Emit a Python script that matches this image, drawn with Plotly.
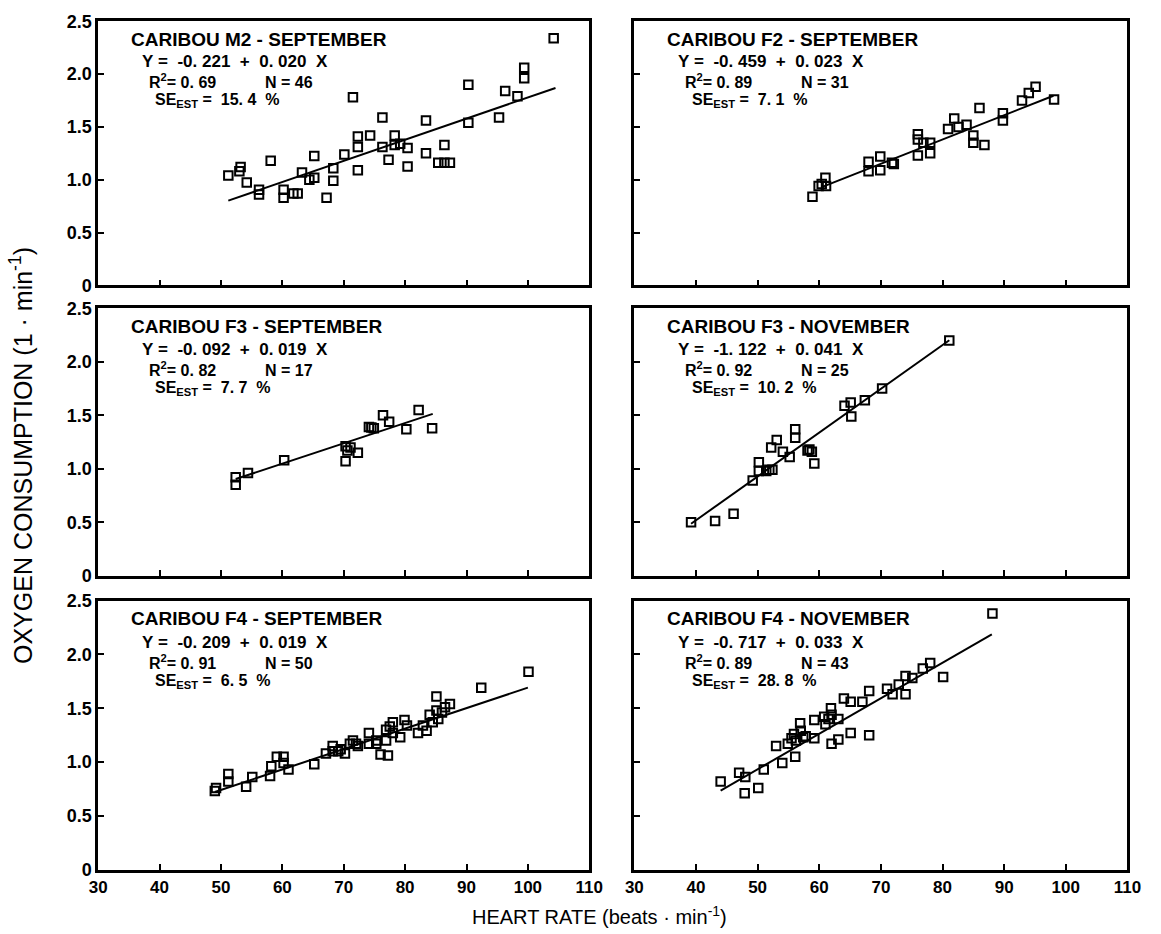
import plotly.graph_objects as go

W, H = 1161, 934

# ---------------- data ----------------
panel_titles = ["CARIBOU M2 - SEPTEMBER", "CARIBOU F2 - SEPTEMBER",
                "CARIBOU F3 - SEPTEMBER", "CARIBOU F3 - NOVEMBER",
                "CARIBOU F4 - SEPTEMBER", "CARIBOU F4 - NOVEMBER"]
intercept_texts = ["-0. 221", "-0. 459", "-0. 092", "-1. 122", "-0. 209", "-0. 717"]
slope_texts = ["0. 020", "0. 023", "0. 019", "0. 041", "0. 019", "0. 033"]
r2_texts = ["0. 69", "0. 89", "0. 82", "0. 92", "0. 91", "0. 89"]
n_texts = ["46", "31", "17", "25", "50", "43"]
se_texts = ["15. 4", "7. 1", "7. 7", "10. 2", "6. 5", "28. 8"]

intercepts = [-0.221, -0.459, -0.092, -1.122, -0.209, -0.717]
slopes = [0.020, 0.023, 0.019, 0.041, 0.019, 0.033]
line_x_start = [51.2, 60.5, 52.4, 39.2, 49.0, 44.0]
line_x_end = [104.5, 98.0, 84.5, 81.1, 100.0, 88.0]

m2_sep_hr = [51.2, 53.0, 53.2, 54.2, 56.2, 56.2, 58.1, 60.2, 60.2, 61.8, 62.5, 63.2,
             64.4, 65.2, 65.2, 67.2, 68.3, 68.3, 70.1, 71.5, 72.3, 72.3, 72.3, 74.3,
             76.3, 76.3, 77.3, 78.3, 78.3, 79.2, 80.4, 80.4, 83.4, 83.4, 85.4, 86.4,
             86.4, 87.3, 90.3, 90.3, 95.3, 96.3, 98.3, 99.4, 99.4, 104.2]
m2_sep_vo2 = [1.04, 1.08, 1.12, 0.975, 0.906, 0.86, 1.18, 0.906, 0.83, 0.87, 0.87, 1.07,
              1.0, 1.02, 1.225, 0.83, 1.11, 0.99, 1.24, 1.78, 1.31, 1.41, 1.09, 1.42,
              1.59, 1.31, 1.19, 1.42, 1.33, 1.34, 1.30, 1.125, 1.56, 1.25, 1.16, 1.33,
              1.16, 1.16, 1.9, 1.54, 1.59, 1.84, 1.79, 2.06, 1.96, 2.34]

f2_sep_hr = [58.9, 59.9, 60.4, 61.0, 61.1, 68.0, 68.0, 69.9, 69.9, 71.8, 72.1, 76.0,
             76.0, 76.0, 76.9, 78.0, 78.0, 80.9, 81.9, 82.6, 83.9, 85.0, 85.0, 86.0,
             86.8, 89.8, 89.8, 92.9, 94.0, 95.1, 98.1]
f2_sep_vo2 = [0.84, 0.94, 0.96, 1.02, 0.94, 1.17, 1.08, 1.22, 1.09, 1.16, 1.15, 1.43,
              1.38, 1.23, 1.35, 1.35, 1.25, 1.48, 1.58, 1.50, 1.52, 1.42, 1.35, 1.68,
              1.33, 1.63, 1.56, 1.75, 1.82, 1.88, 1.76]

f3_sep_hr = [52.4, 52.4, 54.4, 60.3, 70.3, 70.3, 70.6, 71.1, 72.3, 74.1, 74.5, 74.9,
             76.4, 77.4, 80.2, 82.2, 84.4]
f3_sep_vo2 = [0.92, 0.85, 0.96, 1.08, 1.21, 1.07, 1.17, 1.20, 1.15, 1.39, 1.385, 1.38,
              1.50, 1.44, 1.37, 1.55, 1.38]

f3_nov_hr = [39.2, 43.1, 46.1, 49.2, 50.2, 50.2, 51.4, 51.9, 52.4, 52.2, 53.1, 54.1,
             55.2, 56.1, 56.1, 58.1, 58.4, 58.8, 59.2, 64.1, 65.1, 65.2, 67.4, 70.2, 81.1]
f3_nov_vo2 = [0.50, 0.51, 0.58, 0.89, 1.06, 0.98, 0.98, 0.99, 0.99, 1.20, 1.27, 1.16,
              1.11, 1.37, 1.29, 1.17, 1.18, 1.16, 1.05, 1.59, 1.62, 1.49, 1.64, 1.75, 2.20]

f4_sep_hr = [49.0, 49.2, 51.2, 51.2, 54.1, 55.1, 58.0, 58.2, 59.1, 60.2, 60.2, 61.0,
             65.2, 67.1, 68.2, 68.2, 69.1, 69.5, 70.2, 71.0, 71.5, 72.3, 72.0, 74.1,
             74.1, 75.3, 75.3, 76.0, 76.9, 76.9, 77.2, 77.5, 78.0, 78.0, 79.2, 79.9,
             80.3, 82.1, 82.9, 83.5, 84.0, 84.5, 85.1, 85.1, 85.4, 86.5, 86.0, 87.3,
             92.4, 100.1]
f4_sep_vo2 = [0.73, 0.76, 0.89, 0.82, 0.77, 0.86, 0.87, 0.96, 1.05, 1.05, 0.99, 0.93,
              0.98, 1.08, 1.15, 1.10, 1.10, 1.12, 1.08, 1.17, 1.20, 1.15, 1.17, 1.27,
              1.17, 1.20, 1.17, 1.07, 1.30, 1.20, 1.06, 1.33, 1.37, 1.27, 1.23, 1.39,
              1.34, 1.27, 1.34, 1.29, 1.44, 1.37, 1.61, 1.48, 1.40, 1.51, 1.46, 1.54,
              1.69, 1.84]

f4_nov_hr = [44.0, 47.0, 48.0, 47.9, 50.1, 51.0, 53.0, 54.0, 54.9, 55.5, 55.9, 56.1,
             56.2, 56.9, 57.0, 57.4, 57.8, 59.2, 59.2, 60.8, 61.0, 61.5, 61.9, 62.0,
             62.0, 63.1, 63.1, 64.0, 65.1, 65.1, 67.0, 68.1, 68.1, 71.0, 71.9, 72.9,
             74.0, 74.0, 75.1, 76.8, 78.0, 80.1, 88.1]
f4_nov_vo2 = [0.82, 0.90, 0.86, 0.71, 0.76, 0.93, 1.15, 0.99, 1.17, 1.22, 1.26, 1.05,
              1.20, 1.36, 1.29, 1.23, 1.24, 1.39, 1.22, 1.42, 1.35, 1.40, 1.50, 1.44,
              1.17, 1.40, 1.21, 1.59, 1.56, 1.27, 1.56, 1.66, 1.25, 1.68, 1.63, 1.72,
              1.63, 1.80, 1.78, 1.87, 1.92, 1.79, 2.38]

x_tick_vals = [30, 40, 50, 60, 70, 80, 90, 100, 110]
y_tick_vals = [0, 0.5, 1.0, 1.5, 2.0, 2.5]
y_tick_text = ["0", "0.5", "1.0", "1.5", "2.0", "2.5"]

hr_series = [m2_sep_hr, f2_sep_hr, f3_sep_hr, f3_nov_hr, f4_sep_hr, f4_nov_hr]
vo2_series = [m2_sep_vo2, f2_sep_vo2, f3_sep_vo2, f3_nov_vo2, f4_sep_vo2, f4_nov_vo2]

# ---------------- layout geometry (pixels) ----------------
col_px = [(91, 592), (638, 1141)]
row_px = [(11.5, 281.5), (305, 578), (603.5, 878.5)]

FONT = "Liberation Sans, Arial, sans-serif"
NB = "\u00a0"

fig = go.Figure()
layout = {}
annotations = []

for i in range(6):
    r, c = divmod(i, 2)
    n = i + 1
    xa = "x" if n == 1 else f"x{n}"
    ya = "y" if n == 1 else f"y{n}"
    x0, x1 = col_px[c]
    yt, yb = row_px[r]
    xdom = [x0 / W, x1 / W]
    ydom = [(H - yb) / H, (H - yt) / H]
    common = dict(showgrid=False, zeroline=False, showline=True, mirror=True,
                  linecolor="black", linewidth=2.5, ticks="inside", ticklen=6,
                  tickwidth=2, tickcolor="black")
    layout["xaxis" if n == 1 else f"xaxis{n}"] = dict(
        domain=xdom, anchor=ya, range=[30, 110], tickvals=x_tick_vals,
        showticklabels=(r == 2),
        tickfont=dict(family=FONT, size=17, color="black", weight="bold"),
        **common)
    layout["yaxis" if n == 1 else f"yaxis{n}"] = dict(
        domain=ydom, anchor=xa, range=[0, 2.5], tickvals=y_tick_vals,
        ticktext=y_tick_text, showticklabels=(c == 0),
        tickfont=dict(family=FONT, size=18, color="black", weight="bold"), **common)

    hr = hr_series[i]
    vo2 = vo2_series[i]
    fig.add_trace(go.Scatter(x=hr, y=vo2, mode="markers", xaxis=xa, yaxis=ya,
                             marker=dict(symbol="square-open", size=8.5, color="black",
                                         line=dict(width=2, color="black")),
                             showlegend=False))
    lx = [line_x_start[i], line_x_end[i]]
    ly = [intercepts[i] + slopes[i] * v for v in lx]
    fig.add_trace(go.Scatter(x=lx, y=ly, mode="lines", xaxis=xa, yaxis=ya,
                             line=dict(color="black", width=2), showlegend=False))

    xr = f"{xa} domain"
    yr = f"{ya} domain"
    offs = [0.063, 0.085, 0.099, 0.112]
    sfont = dict(family=FONT, size=16, color="black", weight="bold")
    annotations.append(dict(xref=xr, yref=yr, x=offs[0], y=0.932, xanchor="left",
                            yanchor="middle", showarrow=False, text=panel_titles[i],
                            font=dict(family=FONT, size=19, color="black", weight="bold")))
    eq = f"Y{NB}={NB}{NB}{intercept_texts[i]}{NB}{NB}+{NB}{NB}{slope_texts[i]}{NB}{NB}X"
    annotations.append(dict(xref=xr, yref=yr, x=offs[1], y=0.846, xanchor="left",
                            yanchor="middle", showarrow=False, text=eq,
                            font=dict(family=FONT, size=17, color="black", weight="bold")))
    annotations.append(dict(xref=xr, yref=yr, x=offs[2], y=0.773, xanchor="left",
                            yanchor="middle", showarrow=False,
                            text=f"R<sup>2</sup>={NB}{r2_texts[i]}{NB * 11}N{NB}={NB}{n_texts[i]}",
                            font=sfont))
    annotations.append(dict(xref=xr, yref=yr, x=offs[3], y=0.700, xanchor="left",
                            yanchor="middle", showarrow=False,
                            text=f"SE<sub>EST</sub>{NB}={NB}{NB}{se_texts[i]}{NB}{NB}%",
                            font=sfont))

annotations.append(dict(xref="paper", yref="paper", x=602 / W, y=(H - 925) / H,
                        xanchor="center", yanchor="middle", showarrow=False,
                        text="HEART RATE (beats \u00b7 min<sup>-1</sup>)",
                        font=dict(family=FONT, size=20, color="black")))
annotations.append(dict(xref="paper", yref="paper", x=13 / W, y=(H - 455) / H,
                        xanchor="center", yanchor="middle", showarrow=False, textangle=-90,
                        text="OXYGEN CONSUMPTION (1 \u00b7 min<sup>-1</sup>)",
                        font=dict(family=FONT, size=25, color="black")))

fig.update_layout(width=W, height=H, margin=dict(l=0, r=0, t=0, b=0),
                  paper_bgcolor="white", plot_bgcolor="white",
                  annotations=annotations, **layout)

fig.write_html("out.html", config={"displayModeBar": False},
               post_script="document.body.style.margin='0';")
